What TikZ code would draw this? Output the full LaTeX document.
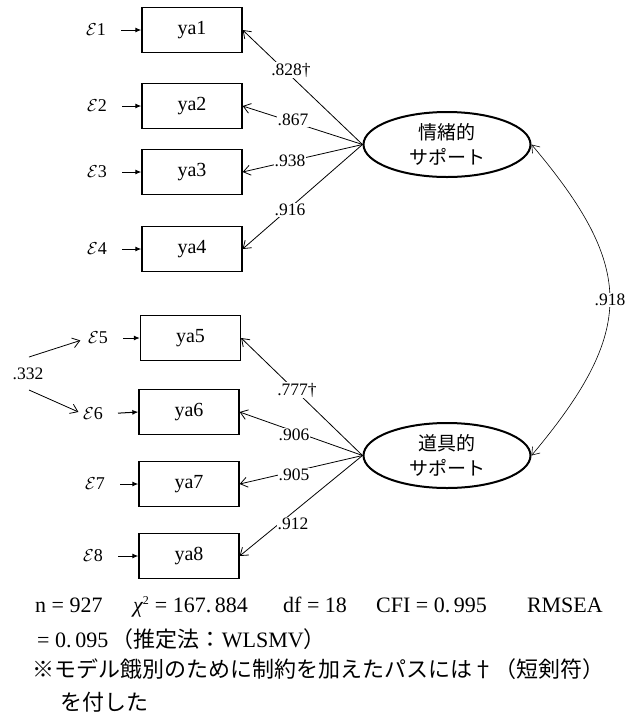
\documentclass[tikz,border=0pt]{standalone}
\usepackage{fontspec}
\setmainfont{Liberation Serif}
\newfontfamily\jp{Noto Sans CJK JP}
\usetikzlibrary{arrows.meta,shapes.geometric}
\begin{document}
\begin{tikzpicture}[x=1pt,y=-1pt,
 obs/.style={draw,line width=1.3pt,minimum width=100pt,minimum height=45pt,inner sep=0pt,font=\rmfamily\fontsize{20}{21}\selectfont},
 lat/.style={ellipse,draw,line width=2pt,minimum width=167pt,minimum height=65pt,inner sep=0pt,align=center,font=\jp\fontsize{19}{25}\selectfont},
 err/.style={inner sep=0pt,font=\rmfamily\fontsize{18}{20}\selectfont},
 coef/.style={fill=white,inner sep=1pt,font=\rmfamily\fontsize{17.5}{18}\selectfont},
 load/.style={line width=0.8pt,-{Straight Barb[length=7pt,width=10pt]}},
 errarr/.style={line width=1pt,-{Latex[length=6pt,width=5pt]},shorten <=15pt},
 note/.style={anchor=base west,inner sep=0pt,font=\rmfamily\fontsize{22}{26}\selectfont}
]
\useasboundingbox (0,0) rectangle (636,716);
% observed variables
\node[obs] (b1) at (192,30) {ya1};
\node[obs] (b2) at (192,106) {ya2};
\node[obs] (b3) at (192,172) {ya3};
\node[obs] (b4) at (192,249) {ya4};
\node[obs] (b5) at (190.5,338) {ya5};
\node[obs] (b6) at (189,412) {ya6};
\node[obs] (b7) at (189,484) {ya7};
\node[obs] (b8) at (189,556) {ya8};
% errors
\node[err] (e1) at (96,30) {$\mathcal{E}$1};
\node[err] (e2) at (97,106) {$\mathcal{E}$2};
\node[err] (e3) at (97,172) {$\mathcal{E}$3};
\node[err] (e4) at (97,249) {$\mathcal{E}$4};
\node[err] (e5) at (98,338) {$\mathcal{E}$5};
\node[err] (e6) at (93,414) {$\mathcal{E}$6};
\node[err] (e7) at (95,484) {$\mathcal{E}$7};
\node[err] (e8) at (93,556) {$\mathcal{E}$8};
\foreach \i in {1,...,8} \draw[errarr] (e\i.east) -- (b\i.west);
% latent
\node[lat] (f1) at (447,144.5) {情緒的\\サポート};
\node[lat] (f2) at (447,455.5) {道具的\\サポート};
\foreach \i in {1,...,4} \draw[load] (f1.west) -- (b\i.east);
\foreach \i in {5,...,8} \draw[load] (f2.west) -- (b\i.east);
% covariance between latent
\draw[line width=0.6pt,{Straight Barb[length=7pt,width=10pt]}-{Straight Barb[length=7pt,width=10pt]}]
  (f1.east) .. controls (636,268) and (636,331) .. (f2.east);
% error correlation
\node[coef,fill=none] (r332) at (28,374) {.332};
\coordinate (s5) at (29,357);
\coordinate (s6) at (29,390);
\draw[load,shorten >=8pt] (s5) -- (e5.west);
\draw[load,shorten >=5pt] (s6) -- (e6.west);
% coefficient labels
\node[coef] (l1) at (291,70) {.828†};
\node[coef] (l2) at (293,120) {.867};
\node[coef] (l3) at (290,161) {.938};
\node[coef] (l4) at (290,210) {.916};
\node[coef] (l5) at (297,390) {.777†};
\node[coef] (l6) at (294,435) {.906};
\node[coef] (l7) at (294,475) {.905};
\node[coef] (l8) at (293,524) {.912};
\node[coef] (l918) at (610,300) {.918};
% notes
\node[note] (n1) at (35,612) {n = 927};
\node[note] (n2) at (133,612) {{\itshape χ}\textsuperscript{\fontsize{12}{12}\selectfont 2} = 167.\,884};
\node[note] (n3) at (283,612) {df = 18};
\node[note] (n4) at (376,612) {CFI = 0.\,995};
\node[note,anchor=base east] (n5) at (603,612) {RMSEA};
\node[note] (n6) at (37,647) {= 0.\,095\,{\jp （推定法：}WLSMV{\jp ）}};
\node[note] (n7) at (32,677) {\jp ※モデル餓別のために制約を加えたパスには†（短剣符）};
\node[note] (n8) at (60,710) {\jp を付した};
\end{tikzpicture}
\end{document}
